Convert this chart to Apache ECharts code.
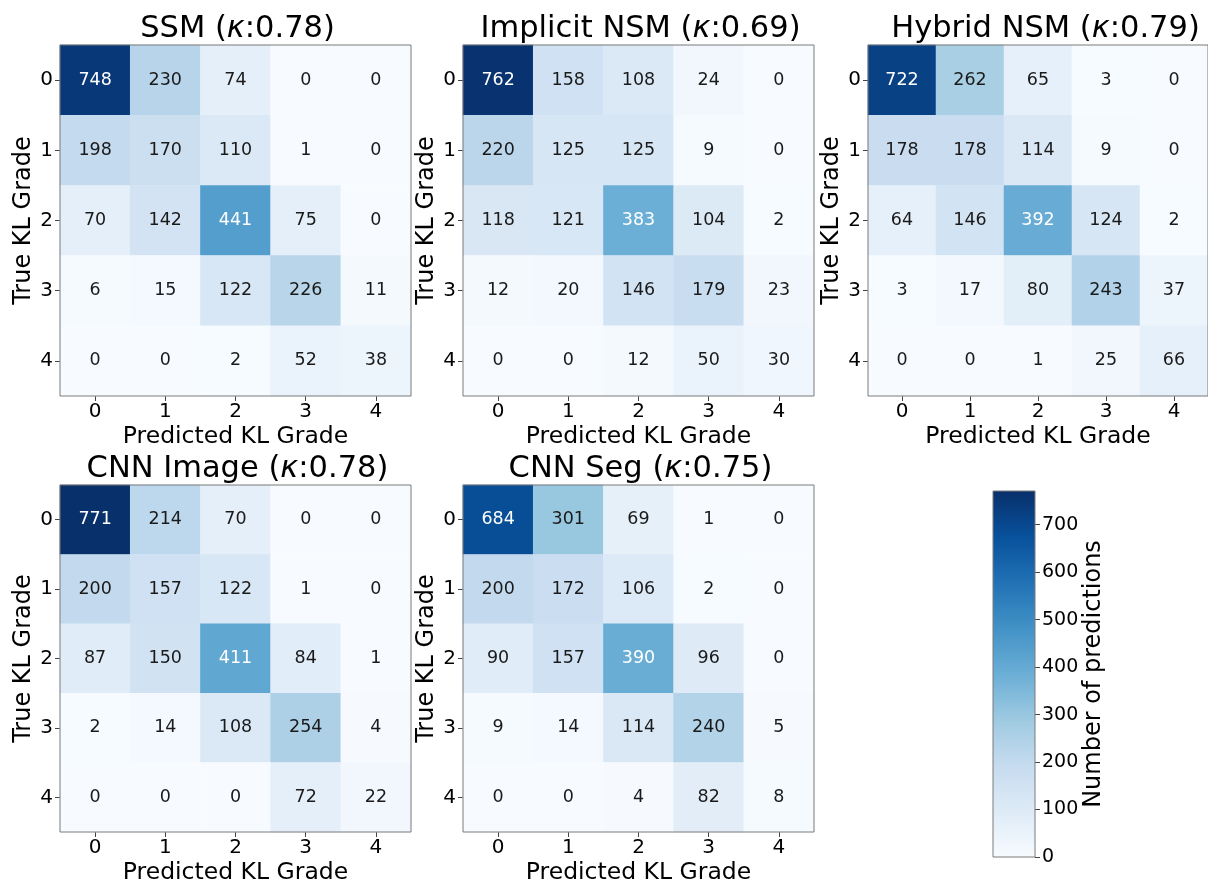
<!DOCTYPE html>
<html>
<head>
<meta charset="utf-8">
<script src="https://cdn.jsdelivr.net/npm/echarts@6/dist/echarts.min.js"></script>
<style>
  html, body { margin: 0; padding: 0; background: #ffffff; }
  #chart { width: 1208px; height: 886px; }
</style>
</head>
<body>
<div id="chart"></div>
<script>
// KL grade categories (rows = true grade, columns = predicted grade)
const grades = ['0', '1', '2', '3', '4'];

// Model names and Cohen's kappa shown in each panel title
const panelNames = ['SSM', 'Implicit NSM', 'Hybrid NSM', 'CNN Image', 'CNN Seg'];
const kappas = ['0.78', '0.69', '0.79', '0.78', '0.75'];

// Confusion matrices: ssm[trueGrade][predictedGrade]
const ssm = [
  [748, 230, 74, 0, 0],
  [198, 170, 110, 1, 0],
  [70, 142, 441, 75, 0],
  [6, 15, 122, 226, 11],
  [0, 0, 2, 52, 38]
];
const implicitNsm = [
  [762, 158, 108, 24, 0],
  [220, 125, 125, 9, 0],
  [118, 121, 383, 104, 2],
  [12, 20, 146, 179, 23],
  [0, 0, 12, 50, 30]
];
const hybridNsm = [
  [722, 262, 65, 3, 0],
  [178, 178, 114, 9, 0],
  [64, 146, 392, 124, 2],
  [3, 17, 80, 243, 37],
  [0, 0, 1, 25, 66]
];
const cnnImage = [
  [771, 214, 70, 0, 0],
  [200, 157, 122, 1, 0],
  [87, 150, 411, 84, 1],
  [2, 14, 108, 254, 4],
  [0, 0, 0, 72, 22]
];
const cnnSeg = [
  [684, 301, 69, 1, 0],
  [200, 172, 106, 2, 0],
  [90, 157, 390, 96, 0],
  [9, 14, 114, 240, 5],
  [0, 0, 4, 82, 8]
];

// Colour bar tick labels
const colorbarTicks = [0, 100, 200, 300, 400, 500, 600, 700];

const matrices = [ssm, implicitNsm, hybridNsm, cnnImage, cnnSeg];

// ---- styling / layout ----
const FONT = '"DejaVu Sans", "Liberation Sans", sans-serif';
const BLUES = ['#f7fbff', '#deebf7', '#c6dbef', '#9ecae1', '#6baed6',
               '#4292c6', '#2171b5', '#08519c', '#08306b'];
const FRAME = '#7a7a7a';
const DARK_TEXT = '#1a1a1a';

// Panel plot areas [left, top]; each panel is a square
const panelBoxes = [[60, 45], [463, 45], [868, 45], [60, 485], [463, 485]];
const PANEL = 351;
const colorbarBox = { left: 993, top: 491, width: 42, height: 366 };

// shared colour scale for every panel
const vmax = Math.max(...matrices.map(m => Math.max(...m.flat())));

const chart = echarts.init(document.getElementById('chart'), null, { renderer: 'canvas' });

const grids = [], xAxes = [], yAxes = [], series = [], titles = [];

matrices.forEach((m, p) => {
  const [left, top] = panelBoxes[p];
  grids.push({
    left: left, top: top, width: PANEL, height: PANEL,
    show: true, z: 10, backgroundColor: 'transparent',
    borderColor: FRAME, borderWidth: 1
  });
  xAxes.push({
    type: 'category', gridIndex: p, data: grades, position: 'bottom',
    name: 'Predicted KL Grade', nameLocation: 'middle', nameGap: 29,
    nameTextStyle: { fontFamily: FONT, fontSize: 23.5, color: '#000' },
    axisLine: { show: false },
    axisTick: { show: true, alignWithLabel: true, length: 5, lineStyle: { color: '#444' } },
    axisLabel: { fontFamily: FONT, fontSize: 20, color: '#000', margin: 6 },
    splitLine: { show: false }
  });
  yAxes.push({
    type: 'category', gridIndex: p, data: grades, inverse: true,
    name: 'True KL Grade', nameLocation: 'middle', nameGap: 24, nameRotate: 90,
    nameTextStyle: { fontFamily: FONT, fontSize: 24, color: '#000' },
    axisLine: { show: false },
    axisTick: { show: true, alignWithLabel: true, length: 5, lineStyle: { color: '#444' } },
    axisLabel: { fontFamily: FONT, fontSize: 20, color: '#000', margin: 7 },
    splitLine: { show: false }
  });
  const panelMax = Math.max(...m.flat());
  const data = [];
  m.forEach((row, r) => {
    row.forEach((v, c) => {
      data.push({
        value: [c, r, v],
        label: { color: v > panelMax / 2 ? '#ffffff' : DARK_TEXT }
      });
    });
  });
  series.push({
    type: 'heatmap', xAxisIndex: p, yAxisIndex: p, data: data,
    itemStyle: { borderWidth: 0 },
    label: {
      show: true, fontFamily: FONT, fontSize: 17.5,
      formatter: (d) => String(d.value[2])
    },
    emphasis: { disabled: true }
  });
  titles.push({
    text: panelNames[p] + ' ({k|κ}:' + kappas[p] + ')',
    left: left + PANEL / 2 - 3, top: top - 36, textAlign: 'center',
    textStyle: {
      fontFamily: FONT, fontSize: 30.5, fontWeight: 'normal', color: '#000',
      rich: { k: { fontFamily: FONT, fontSize: 30.5, fontStyle: 'italic', color: '#000' } }
    }
  });
});

// colour bar: one full-height bar filled with the colour ramp, on a value axis
const cb = matrices.length;
grids.push({
  left: colorbarBox.left, top: colorbarBox.top,
  width: colorbarBox.width, height: colorbarBox.height,
  show: true, z: 10, backgroundColor: 'transparent',
  borderColor: FRAME, borderWidth: 1
});
xAxes.push({
  type: 'category', gridIndex: cb, data: ['scale'], show: false,
  boundaryGap: true
});
yAxes.push({
  type: 'value', gridIndex: cb, min: 0, max: vmax, position: 'right',
  name: 'Number of predictions', nameLocation: 'middle', nameGap: 45, nameRotate: 90,
  nameTextStyle: { fontFamily: FONT, fontSize: 24, color: '#000' },
  axisLine: { show: false },
  axisTick: { show: true, length: 5, customValues: colorbarTicks, lineStyle: { color: '#444' } },
  axisLabel: { fontFamily: FONT, fontSize: 19, color: '#000', margin: 7, customValues: colorbarTicks },
  splitLine: { show: false }
});
series.push({
  type: 'bar', xAxisIndex: cb, yAxisIndex: cb, data: [vmax],
  barWidth: '100%', silent: true,
  itemStyle: {
    color: new echarts.graphic.LinearGradient(0, 1, 0, 0,
      BLUES.map((c, i) => ({ offset: i / (BLUES.length - 1), color: c })))
  }
});

chart.setOption({
  backgroundColor: '#ffffff',
  animation: false,
  title: titles,
  grid: grids,
  xAxis: xAxes,
  yAxis: yAxes,
  visualMap: {
    type: 'continuous', show: false, min: 0, max: vmax,
    seriesIndex: [0, 1, 2, 3, 4], dimension: 2,
    inRange: { color: BLUES }
  },
  series: series
});
</script>
</body>
</html>
